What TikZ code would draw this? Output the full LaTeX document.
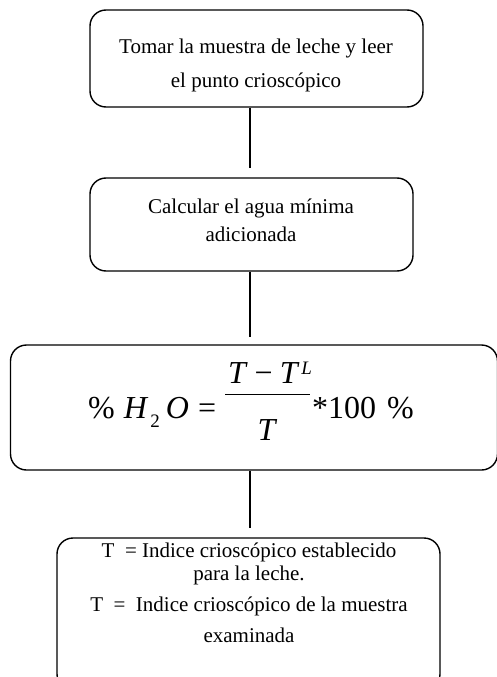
\documentclass[tikz,border=0pt]{standalone}
\usepackage{fontspec}
\setmainfont{Liberation Serif}
\begin{document}
\begin{tikzpicture}[x=1pt,y=-1pt,
  box/.style={draw, line width=1.4pt, rounded corners=16pt, inner sep=0pt},
  conn/.style={line width=1.4pt},
  txt/.style={align=center, inner sep=0pt, anchor=base}]
\useasboundingbox (0,0) rectangle (497,677);
\node[box, minimum width=333pt, minimum height=97pt] (b1) at (256.5,58.5) {};
\node[box, minimum width=323pt, minimum height=93pt] (b2) at (251.5,224.5) {};
\node[box, minimum width=487pt, minimum height=125pt] (b3) at (254,407.5) {};
\node[box, minimum width=383pt, minimum height=152pt] (b4) at (248.5,614) {};
\node[txt, font=\fontsize{21}{34}\selectfont] (t1) at (256,87) {Tomar la muestra de leche y leer\\el punto crioscópico};
\node[txt, font=\fontsize{21}{28}\selectfont] (t2) at (251,241) {Calcular el agua mínima\\adicionada};
\node[inner sep=0pt, anchor=base west, font=\fontsize{32}{32}\selectfont] (t3) at (88,418) {\%\hspace{9pt}\textit{H}\hspace{2pt}\raisebox{-9pt}{\fontsize{19}{19}\selectfont 2}\hspace{6pt}\textit{O}\hspace{9pt}=\hspace{9pt}\rlap{\raisebox{35pt}{\makebox[85pt][l]{\hspace{3pt}\textit{T}\hspace{7pt}−\hspace{7pt}\textit{T}\hspace{2pt}\raisebox{9pt}{\fontsize{19}{19}\selectfont\textit{L}}}}}\rlap{\raisebox{-22pt}{\makebox[85pt]{\textit{T}}}}\rule[23pt]{85pt}{1.4pt}\hspace{2pt}*100\hspace{11pt}\%};
\node[txt, font=\fontsize{21}{23}\selectfont] (t4) at (249,642) {T \ = Indice crioscópico establecido\\para la leche.\\[8pt]T \ = \ Indice crioscópico de la muestra\\[8pt]examinada};
\coordinate (e1) at (250,168);
\coordinate (e2) at (250,337);
\coordinate (e3) at (250,528);
\draw[conn] (b1.south -| e1) -- (e1);
\draw[conn] (b2.south -| e2) -- (e2);
\draw[conn] (b3.south -| e3) -- (e3);
\end{tikzpicture}
\end{document}
